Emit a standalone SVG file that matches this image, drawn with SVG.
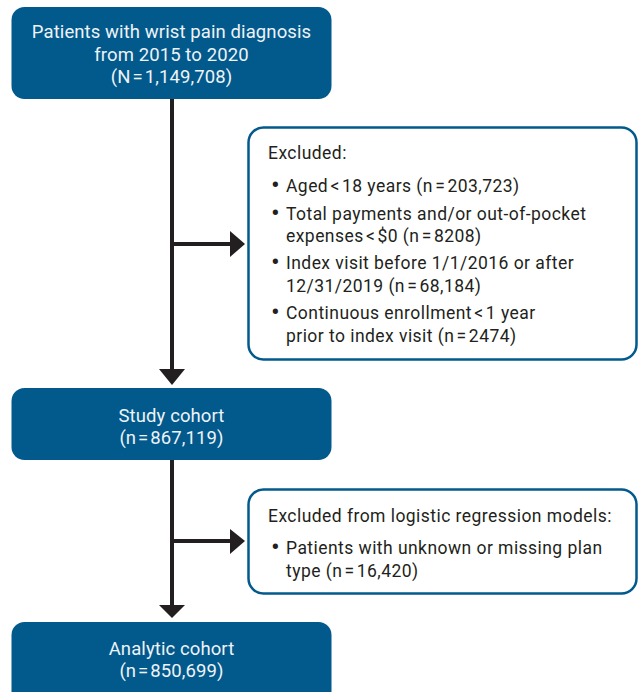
<svg xmlns="http://www.w3.org/2000/svg" width="642" height="692" viewBox="0 0 642 692">
<defs>
<style>
.box{fill:#02598c;}
.ex{fill:#ffffff;stroke:#02598c;stroke-width:2.5;}
.bt{font-family:Roboto,"Liberation Sans",sans-serif;font-size:18.5px;letter-spacing:0.1px;fill:#eef3f7;text-anchor:middle;}
.et{font-family:Roboto,"Liberation Sans",sans-serif;font-size:17.5px;letter-spacing:0.45px;fill:#231f20;}
.bu{font-family:Roboto,"Liberation Sans",sans-serif;font-size:26px;fill:#231f20;}
.ln{stroke:#231f20;stroke-width:4;fill:none;}
.ah{fill:#231f20;}
</style>
</defs>
<rect width="642" height="692" fill="#ffffff"/>
<g id="connectors">
<line class="ln" x1="172" y1="99" x2="172" y2="370"/>
<line class="ln" x1="172" y1="244" x2="232" y2="244"/>
<polygon class="ah" points="159,369 185,369 172,385"/>
<polygon class="ah" points="230,231 245,244 230,257"/>
<line class="ln" x1="172" y1="460" x2="172" y2="606"/>
<line class="ln" x1="172" y1="541" x2="232" y2="541"/>
<polygon class="ah" points="159,605 185,605 172,618"/>
<polygon class="ah" points="230,529 245,541 230,554"/>
</g>
<g id="node-start">
<rect class="box" x="11.5" y="7" width="320" height="92" rx="13"/>
<text class="bt" x="171.5" y="38">Patients with wrist pain diagnosis</text>
<text class="bt" x="171.5" y="60.5">from 2015 to 2020</text>
<text class="bt" x="171.5" y="83">(N&#8202;=&#8202;1,149,708)</text>
</g>
<g id="node-excluded1">
<rect class="ex" x="248.5" y="127.5" width="388" height="232" rx="15"/>
<text class="et" x="268" y="159">Excluded:</text>
<text class="bu" x="271" y="194">•</text><text class="et" x="286" y="192">Aged&#8202;&lt;&#8202;18 years (n&#8202;=&#8202;203,723)</text>
<text class="bu" x="271" y="222">•</text><text class="et" x="286" y="220">Total payments and/or out-of-pocket</text>
<text class="et" x="286" y="242">expenses&#8202;&lt;&#8202;$0 (n&#8202;=&#8202;8208)</text>
<text class="bu" x="271" y="271">•</text><text class="et" x="286" y="269">Index visit before 1/1/2016 or after</text>
<text class="et" x="286" y="292">12/31/2019 (n&#8202;=&#8202;68,184)</text>
<text class="bu" x="271" y="321">•</text><text class="et" x="286" y="319">Continuous enrollment&#8202;&lt;&#8202;1 year</text>
<text class="et" x="286" y="342">prior to index visit (n&#8202;=&#8202;2474)</text>
</g>
<g id="node-study">
<rect class="box" x="11.5" y="388" width="320" height="72" rx="13"/>
<text class="bt" x="171.5" y="422">Study cohort</text>
<text class="bt" x="171.5" y="444">(n&#8202;=&#8202;867,119)</text>
</g>
<g id="node-excluded2">
<rect class="ex" x="248.5" y="489.5" width="388" height="104" rx="15"/>
<text class="et" x="268" y="522">Excluded from logistic regression models:</text>
<text class="bu" x="271" y="556">•</text><text class="et" x="286" y="554">Patients with unknown or missing plan</text>
<text class="et" x="286" y="577">type (n&#8202;=&#8202;16,420)</text>
</g>
<g id="node-analytic">
<rect class="box" x="11.5" y="622" width="320" height="84" rx="13"/>
<text class="bt" x="171.5" y="655">Analytic cohort</text>
<text class="bt" x="171.5" y="677">(n&#8202;=&#8202;850,699)</text>
</g>
</svg>
